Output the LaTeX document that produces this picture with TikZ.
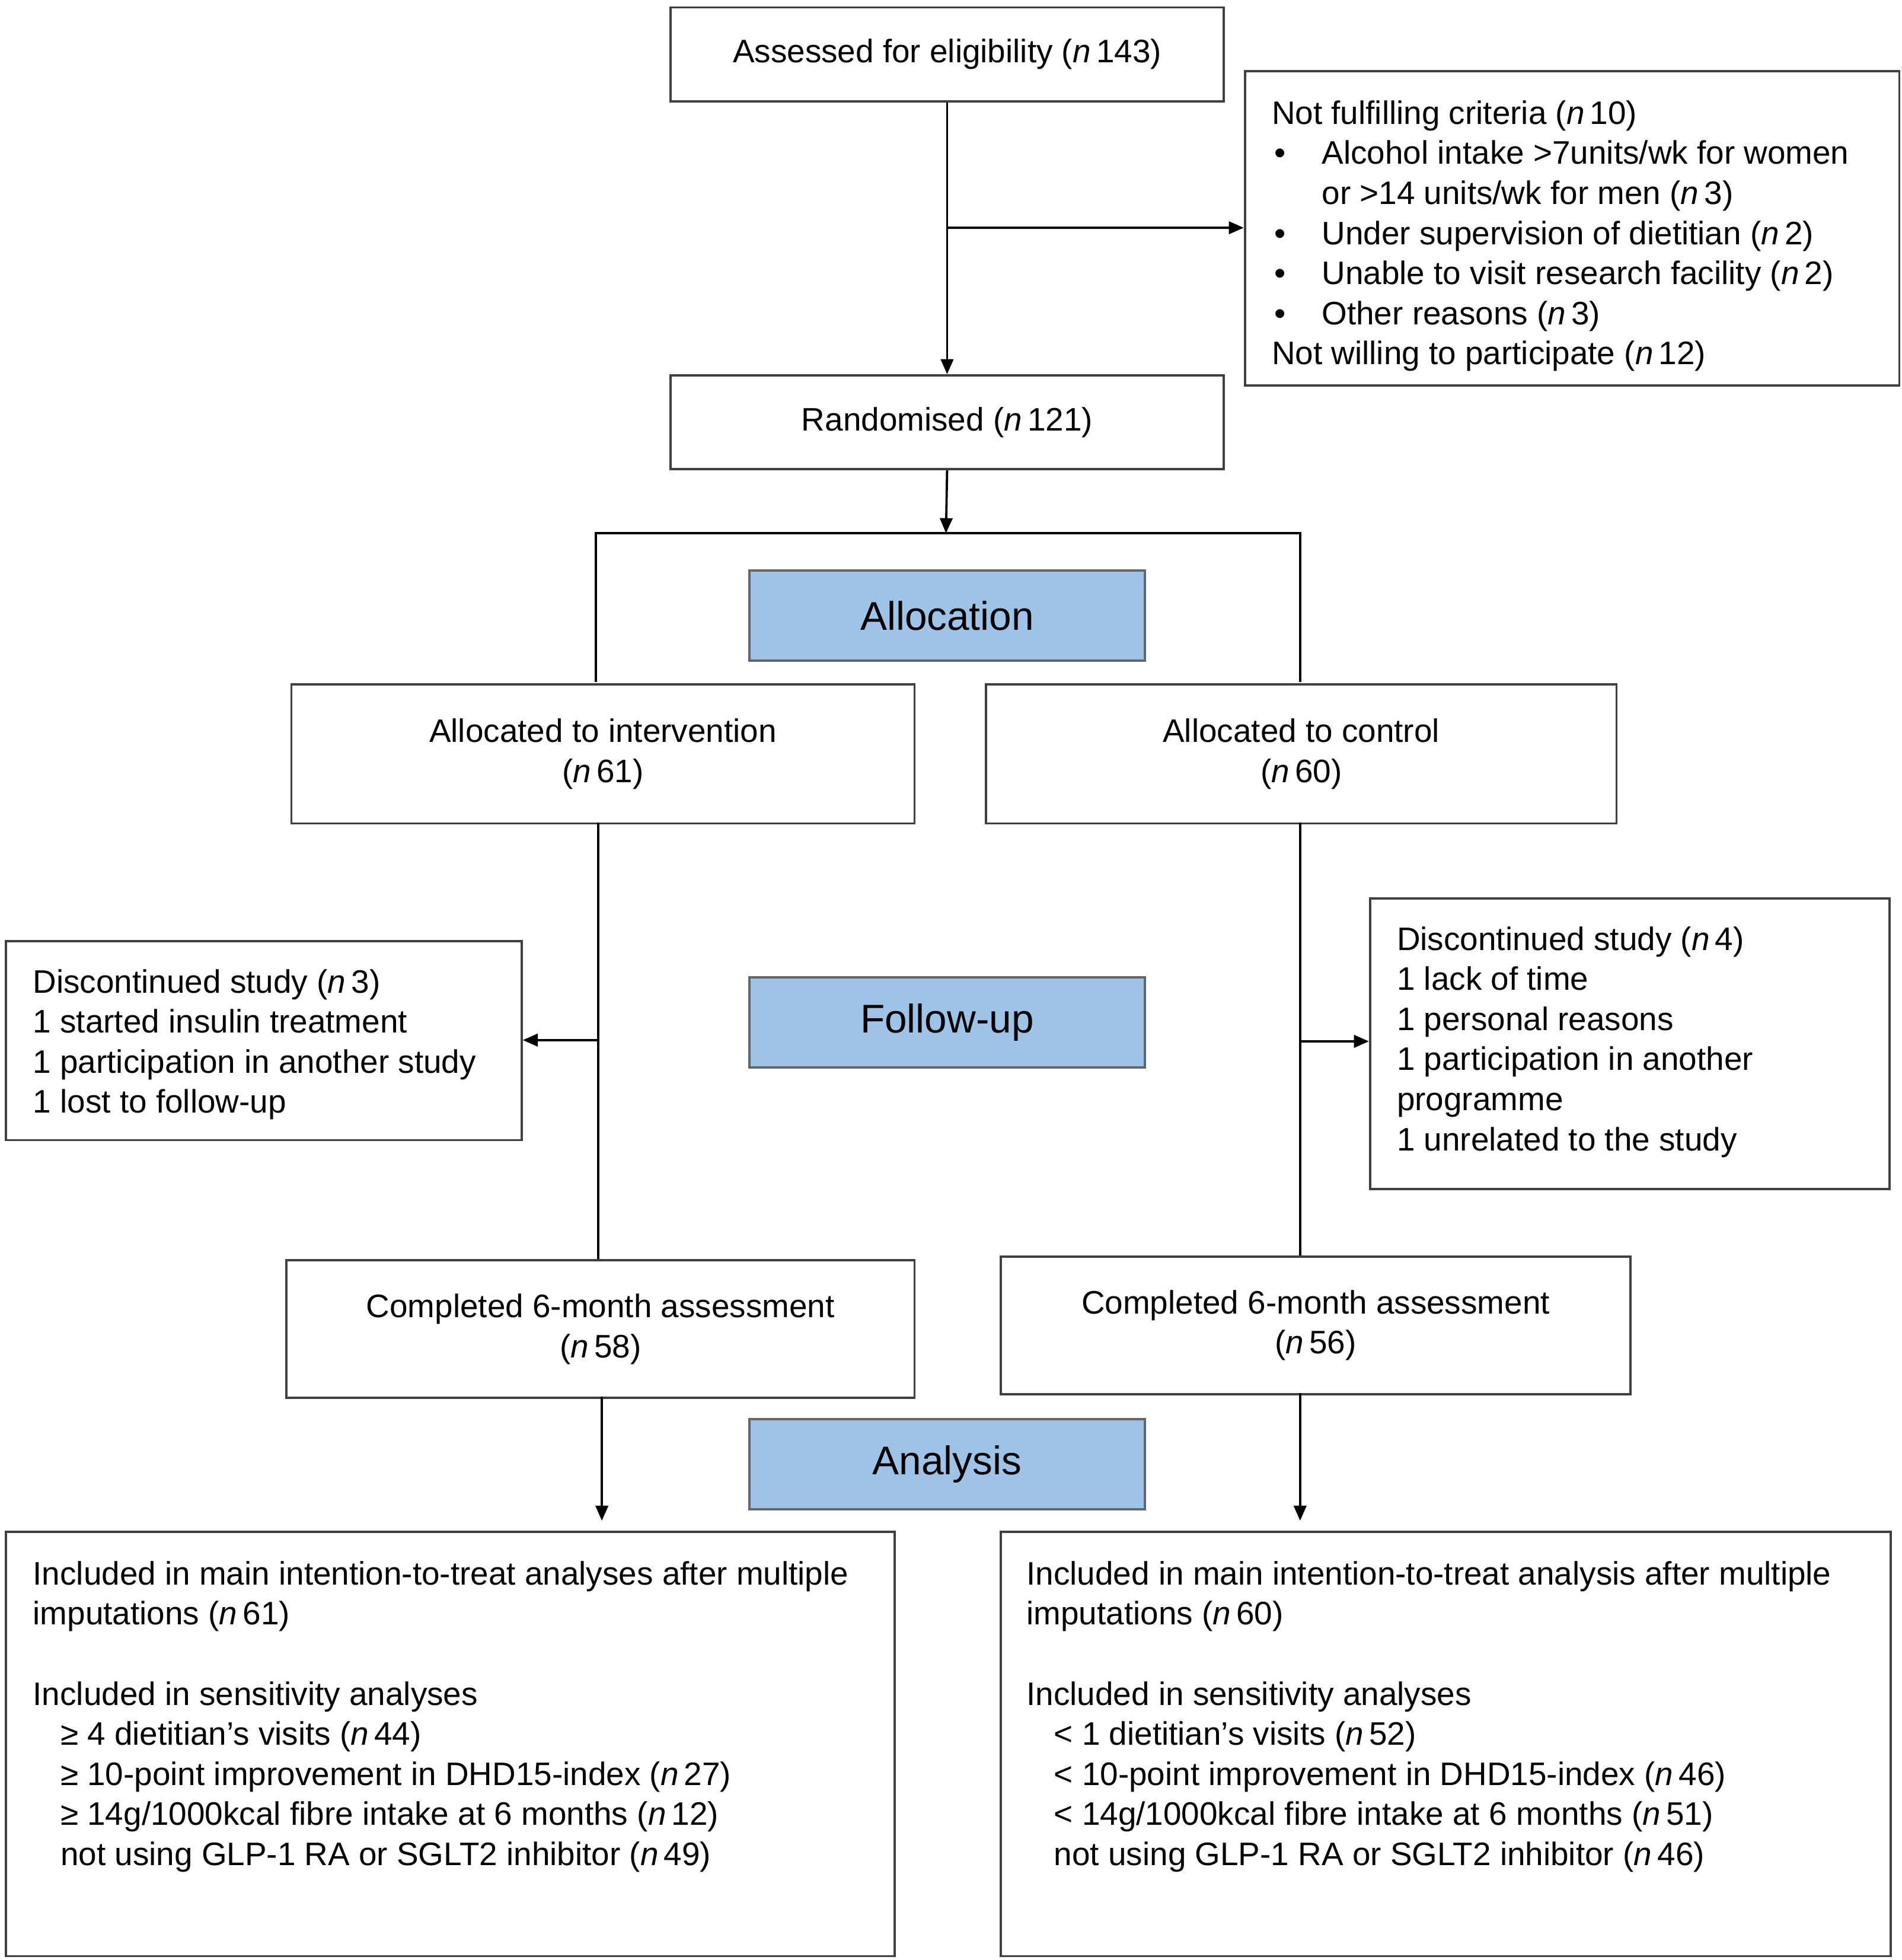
\documentclass[tikz,border=0pt]{standalone}
\usepackage{fontspec}
\setmainfont{Liberation Sans}
\usetikzlibrary{arrows.meta}
\definecolor{bl}{HTML}{9DC3E6}
\begin{document}
\begin{tikzpicture}[x=0.5pt,y=-0.5pt,
  box/.style={draw=black!75,line width=0.9pt,rectangle,inner sep=0pt,anchor=north west},
  blue/.style={draw=black!60,line width=0.9pt,fill=bl,rectangle,inner sep=0pt,anchor=north west,font=\fontsize{16}{19}\selectfont,minimum width=158pt,minimum height=36pt},
  txt/.style={font=\fontsize{13}{16}\selectfont,align=left,anchor=north west,inner sep=0pt},
  ctxt/.style={font=\fontsize{13}{16}\selectfont,align=center},
  arr/.style={-{Triangle[length=6pt,width=5pt]},line width=0.9pt},
  ln/.style={line width=0.9pt}]
\useasboundingbox (0,0) rectangle (1520,1566);
\newcommand{\nn}{\textit{n}\,}
% boxes
\node[box,minimum width=221pt,minimum height=37.5pt] (ass) at (535,5) {};
\node[ctxt] at (ass.center) {Assessed for eligibility (\nn143)};
\node[box,minimum width=261.5pt,minimum height=125.5pt] (nf) at (994,56) {};
\node[txt] at (1016,80) {Not fulfilling criteria (\nn10)\\
\makebox[20pt][l]{\hspace{1pt}•}Alcohol intake >7units/wk for women\\
\hspace*{20pt}or >14 units/wk for men (\nn3)\\
\makebox[20pt][l]{\hspace{1pt}•}Under supervision of dietitian (\nn2)\\
\makebox[20pt][l]{\hspace{1pt}•}Unable to visit research facility (\nn2)\\
\makebox[20pt][l]{\hspace{1pt}•}Other reasons (\nn3)\\
Not willing to participate (\nn12)};
\node[box,minimum width=221pt,minimum height=37.5pt] (ran) at (535,299) {};
\node[ctxt] at (ran.center) {Randomised (\nn121)};
\node[blue] (alloc) at (598,455) {Allocation};
\node[box,minimum width=249pt,minimum height=55.5pt] (ai) at (232,546) {};
\node[ctxt] at (ai.center) {Allocated to intervention\\(\nn61)};
\node[box,minimum width=252pt,minimum height=55.5pt] (ac) at (787,546) {};
\node[ctxt] at (ac.center) {Allocated to control\\(\nn60)};
\node[box,minimum width=206pt,minimum height=79.5pt] (dl) at (4,751) {};
\node[txt] at (26,774) {Discontinued study (\nn3)\\1 started insulin treatment\\1 participation in another study\\1 lost to follow-up};
\node[blue] (fu) at (598,780) {Follow-up};
\node[box,minimum width=207.5pt,minimum height=116pt] (dr) at (1094,717) {};
\node[txt] at (1116,740) {Discontinued study (\nn4)\\1 lack of time\\1 personal reasons\\1 participation in another\\programme\\1 unrelated to the study};
\node[box,minimum width=251pt,minimum height=55pt] (cl) at (228,1006) {};
\node[ctxt] at (cl.center) {Completed 6-month assessment\\(\nn58)};
\node[box,minimum width=251.5pt,minimum height=55pt] (cr) at (799,1003) {};
\node[ctxt] at (cr.center) {Completed 6-month assessment\\(\nn56)};
\node[blue] (an) at (598,1133) {Analysis};
\node[box,minimum width=355pt,minimum height=169.5pt] (il) at (4,1223) {};
\node[txt] at (26,1247) {Included in main intention-to-treat analyses after multiple\\imputations (\nn61)\\[16pt]
Included in sensitivity analyses\\
\hspace*{11pt}≥ 4 dietitian’s visits (\nn44)\\
\hspace*{11pt}≥ 10-point improvement in DHD15-index (\nn27)\\
\hspace*{11pt}≥ 14g/1000kcal fibre intake at 6 months (\nn12)\\
\hspace*{11pt}not using GLP-1 RA or SGLT2 inhibitor (\nn49)};
\node[box,minimum width=355.5pt,minimum height=169.5pt] (ir) at (799,1223) {};
\node[txt] at (820,1247) {Included in main intention-to-treat analysis after multiple\\imputations (\nn60)\\[16pt]
Included in sensitivity analyses\\
\hspace*{11pt}< 1 dietitian’s visits (\nn52)\\
\hspace*{11pt}< 10-point improvement in DHD15-index (\nn46)\\
\hspace*{11pt}< 14g/1000kcal fibre intake at 6 months (\nn51)\\
\hspace*{11pt}not using GLP-1 RA or SGLT2 inhibitor (\nn46)};
% connectors
\coordinate (b1) at (756,182);
\draw[arr] (ass.south) -- (ran.north);
\draw[arr] (b1) -- (nf.west|-b1);
\coordinate (ft) at (756,426);
\draw[arr] (ran.south) -- (ft);
\draw[ln] (476,545) -- (476,426) -- (1039,426) -- (1039,545);
\coordinate (l1) at (478,831);
\coordinate (r1) at (1039,832);
\draw[ln] (478,657) -- (478,1006);
\draw[arr] (l1) -- (dl.east|-l1);
\draw[ln] (1039,657) -- (1039,1003);
\draw[arr] (r1) -- (dr.west|-r1);
\draw[arr] (481,1116) -- (481,1215);
\draw[arr] (1039,1113) -- (1039,1215);
\end{tikzpicture}
\end{document}
